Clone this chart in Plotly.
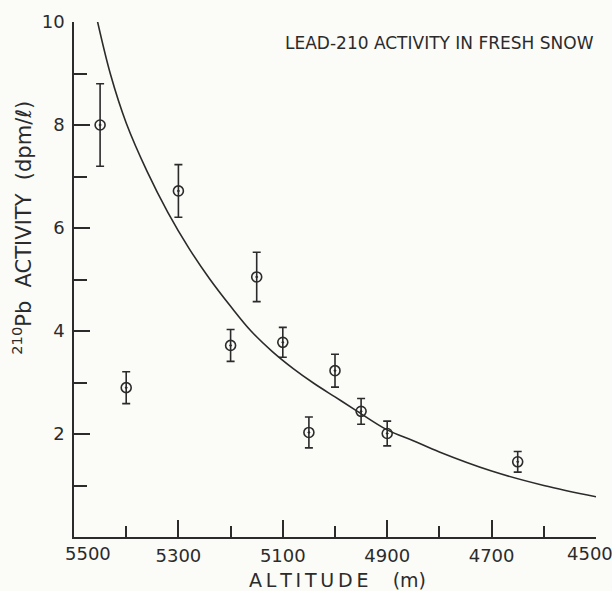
import plotly.graph_objects as go

# Measured data points
altitude = [5450, 5400, 5300, 5200, 5150, 5100, 5050, 5000, 4950, 4900, 4650]
activity = [8.0, 2.9, 6.72, 3.72, 5.05, 3.78, 2.03, 3.23, 2.44, 2.01, 1.46]
error = [0.8, 0.31, 0.51, 0.31, 0.48, 0.29, 0.3, 0.32, 0.25, 0.24, 0.2]

# Fitted curve
curve_alt = [5457, 5430, 5400, 5360, 5320, 5280, 5240, 5200, 5160, 5120, 5080, 5040, 5000, 4960, 4900, 4850, 4800, 4700, 4600, 4500]
curve_val = [10.1, 8.98, 8.04, 7.10, 6.30, 5.61, 5.01, 4.48, 3.99, 3.60, 3.27, 2.98, 2.72, 2.46, 2.08, 1.87, 1.65, 1.28, 1.00, 0.78]

x_inner_labels = [5300, 5100, 4900, 4700]
x_end_labels = [5500, 4500]
y_major = [2, 4, 6, 8, 10]

ink = "#2b2b2b"
bg = "#fbfbf8"
font = "DejaVu Sans"
thin = "\u2009"
nb = "\u00a0"

fig = go.Figure()
fig.add_trace(go.Scatter(
    x=curve_alt, y=curve_val, mode="lines",
    line=dict(color=ink, width=1.6, shape="spline", smoothing=1.0),
    cliponaxis=False, hoverinfo="skip", showlegend=False,
))
fig.add_trace(go.Scatter(
    x=altitude, y=activity, mode="markers",
    marker=dict(symbol="circle-open-dot", size=10, color=ink, line=dict(width=1.6, color=ink)),
    error_y=dict(type="data", array=error, visible=True, color=ink, thickness=1.6, width=4),
    cliponaxis=False, showlegend=False,
))

annotations = [
    dict(
        text="LEAD-210 ACTIVITY IN FRESH SNOW", xref="paper", yref="paper",
        x=1.0, y=0.96, xanchor="right", yanchor="middle", showarrow=False,
        font=dict(size=17, family=font, color=ink),
    ),
    dict(
        text=thin.join("ALTITUDE") + nb * 4 + "(m)", xref="paper", yref="paper",
        x=0.505, y=-0.084, xanchor="center", yanchor="middle", showarrow=False,
        font=dict(size=19, family=font, color=ink),
    ),
    dict(
        text="<sup>210</sup>Pb" + nb * 2 + "ACTIVITY" + nb * 2 + "(dpm/ℓ)", xref="paper", yref="paper",
        x=-0.1, y=0.6, xanchor="center", yanchor="middle", showarrow=False,
        textangle=-90, font=dict(size=21, family=font, color=ink),
    ),
]
for v, shift in zip(x_end_labels, [14, -6]):
    annotations.append(dict(
        text=str(v), xref="x", yref="paper", x=v, y=0, xanchor="center", yanchor="top",
        xshift=shift, yshift=-4, showarrow=False, font=dict(size=18, family=font, color=ink),
    ))

fig.update_layout(
    width=612, height=591,
    margin=dict(l=74, r=16, t=22, b=54),
    paper_bgcolor=bg, plot_bgcolor=bg,
    font=dict(family=font, color=ink, size=16),
    xaxis=dict(
        range=[5500, 4500],
        tickvals=x_inner_labels + x_end_labels,
        ticktext=[str(v) for v in x_inner_labels] + ["", ""],
        ticks="inside", ticklen=17, tickwidth=1.6, tickcolor=ink,
        minor=dict(dtick=100, tick0=4500, ticks="inside", ticklen=11, tickwidth=1.6, tickcolor=ink),
        showline=True, linecolor=ink, linewidth=1.6, showgrid=False, zeroline=False,
        tickfont=dict(size=18, family=font), automargin=False, ticklabelstandoff=2,
    ),
    yaxis=dict(
        range=[0, 10], tickvals=y_major, ticktext=[str(v) for v in y_major],
        ticks="inside", ticklen=16, tickwidth=1.6, tickcolor=ink,
        minor=dict(dtick=1, tick0=0, ticks="inside", ticklen=13, tickwidth=1.6, tickcolor=ink),
        showline=True, linecolor=ink, linewidth=1.6, showgrid=False, zeroline=False,
        tickfont=dict(size=18, family=font), automargin=False,
        ticklabelstandoff=4,
    ),
    annotations=annotations,
)

fig.write_html(
    "out.html",
    config={"displayModeBar": False},
    post_script="document.body.style.margin='0';document.body.style.background='#fbfbf8';",
)
